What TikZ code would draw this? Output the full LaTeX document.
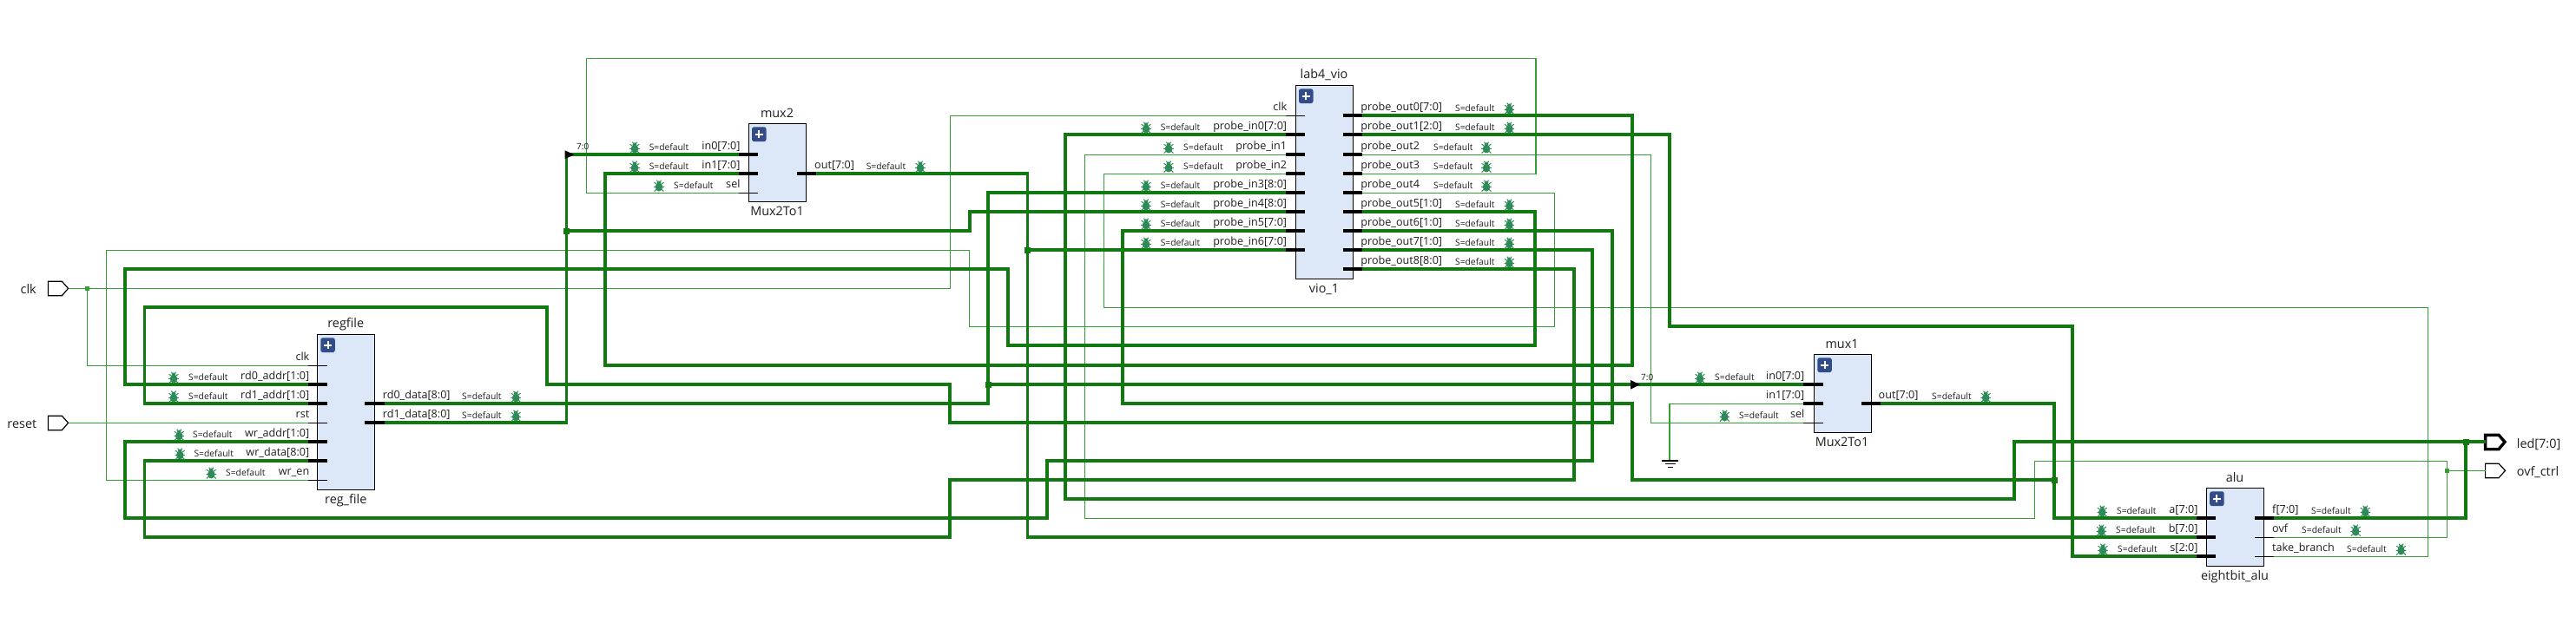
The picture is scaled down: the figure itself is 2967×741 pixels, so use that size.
\documentclass[tikz,border=0pt]{standalone}
\usepackage{fontspec}
\setmainfont{Open Sans}
\definecolor{buscol}{RGB}{16,122,16}
\definecolor{wirecol}{RGB}{52,160,52}
\definecolor{blockfill}{RGB}{220,232,248}
\definecolor{plusfill}{RGB}{50,76,138}
\definecolor{bugcol}{RGB}{46,139,87}
\definecolor{txtcol}{RGB}{30,30,30}
\newcommand{\pinfont}{\fontsize{12.6}{15}\selectfont}
\newcommand{\dbgfont}{\fontsize{10.3}{12}\selectfont}
\newcommand{\namefont}{\fontsize{14.4}{17}\selectfont}
\tikzset{
  x=1pt,y=-1pt,
  busw/.style={draw=buscol,line width=3.9pt,miter limit=10},
  thinw/.style={draw=wirecol,line width=1.5pt},
  busstub/.style={draw=black,line width=3.9pt},
  thinstub/.style={draw=black,line width=1.2pt},
  block/.style={draw=black,line width=1.2pt,fill=blockfill,rectangle,anchor=north west,inner sep=0pt,outer sep=0pt},
  pinl/.style={font=\pinfont,text=txtcol,inner sep=0pt,anchor=base east},
  pinr/.style={font=\pinfont,text=txtcol,inner sep=0pt,anchor=base west},
  dbgt/.style={font=\dbgfont,text=txtcol,inner sep=0pt,anchor=base west},
  blockname/.style={font=\namefont,text=txtcol,inner sep=0pt,anchor=base},
  portname/.style={font=\namefont,text=txtcol,inner sep=0pt},
  rangetxt/.style={font=\fontsize{10}{12}\selectfont,text=txtcol,inner sep=0pt,anchor=base west},
  busdot/.style={fill=buscol},
  thindot/.style={fill=wirecol},
  bugpic/.pic={
    \fill[bugcol] (0,1.2) ellipse[x radius=4.3,y radius=5];
    \fill[bugcol] (0,-4) ellipse[x radius=2.3,y radius=1.8];
    \draw[bugcol,line width=1pt] (-3,-2.5)--(-5.4,-4) (3,-2.5)--(5.4,-4)
      (-3.5,1)--(-5.8,1) (3.5,1)--(5.8,1) (-3,4)--(-5.4,6.2) (3,4)--(5.4,6.2)
      (-1.5,-5)--(-2.6,-6.6) (1.5,-5)--(2.6,-6.6);
  },
  plusbtn/.pic={
    \fill[plusfill,rounded corners=2.5pt] (0,0) rectangle (16.5,16.8);
    \draw[white,line width=2pt] (3.8,8.4)--(12.7,8.4) (8.25,4)--(8.25,12.8);
  },
}
% name, stub style, stub x0, stub x1, y, label
\newcommand{\lpin}[6]{\coordinate (#1) at (#3,#5);
  \draw[#2] (#3,#5)--(#4,#5);
  \node[pinl] (#1-t) at (#3+1.5,#5-5.4) {#6};}
\newcommand{\rpin}[6]{\coordinate (#1) at (#4,#5);
  \draw[#2] (#3,#5)--(#4,#5);
  \node[pinr] (#1-t) at (#4-2,#5-5.4) {#6};}
% pin name, bug x, text x, y
\newcommand{\dbgmark}[4]{\pic at (#2,#4-8) {bugpic};
  \node[dbgt] (#1-s) at (#3,#4-5) {S=default};}
\newcommand{\jdot}[4]{\coordinate (#1) at (#3,#4);
  \fill[#2] (#3-3.5,#4-3.5) rectangle (#3+3.5,#4+3.5);}
\newcommand{\tdot}[3]{\coordinate (#1) at (#2,#3);
  \fill[thindot] (#2-2.5,#3-2.5) rectangle (#2+2.5,#3+2.5);}
\begin{document}
\begin{tikzpicture}
\fill[white] (0,0) rectangle (2967,741);
\useasboundingbox (0,0) rectangle (2967,741);

% ---------- blocks
\node[block,minimum width=65.6pt,minimum height=179pt] (regfile) at (365.7,385.3) {};
\node[block,minimum width=66.1pt,minimum height=90pt] (mux2) at (862.3,142.3) {};
\node[block,minimum width=66.1pt,minimum height=223pt] (vio) at (1492.4,98.3) {};
\node[block,minimum width=66.2pt,minimum height=90pt] (mux1) at (2089.3,408.3) {};
\node[block,minimum width=66pt,minimum height=90pt] (alu) at (2541.7,562.3) {};
\pic at (369.3,389.3) {plusbtn};
\pic at (866,146.3) {plusbtn};
\pic at (1496,102.3) {plusbtn};
\pic at (2093.3,412.3) {plusbtn};
\pic at (2545.2,566.3) {plusbtn};
\node[blockname] (regfile-n) at (398.3,377.8) {regfile};
\node[blockname] (regfile-b) at (398.3,580) {reg\_file};
\node[blockname] (mux2-n) at (895,135.5) {mux2};
\node[blockname] (mux2-b) at (895,248.3) {Mux2To1};
\node[blockname] (vio-n) at (1525,91) {lab4\_vio};
\node[blockname] (vio-b) at (1525,337.5) {vio\_1};
\node[blockname] (mux1-n) at (2121.5,401.5) {mux1};
\node[blockname] (mux1-b) at (2121.5,514.3) {Mux2To1};
\node[blockname] (alu-n) at (2574,555.5) {alu};
\node[blockname] (alu-b) at (2574,668.3) {eightbit\_alu};

% ---------- ports
\coordinate (clkp) at (78.6,332.3);
\coordinate (rstp) at (78.6,487.3);
\coordinate (ledp) at (2862.6,509.3);
\coordinate (ovfp) at (2862.6,542.3);
\draw[black,line width=1.2pt] (55.4,324.3)--(71.4,324.3)--(78.6,332.3)--(71.4,340.7)--(55.4,340.7)--cycle;
\draw[black,line width=1.2pt] (55.4,479.3)--(71.4,479.3)--(78.6,487.3)--(71.4,495.7)--(55.4,495.7)--cycle;
\draw[black,line width=3.4pt] (2862.6,501.3)--(2878,501.3)--(2885,509.3)--(2878,517.7)--(2862.6,517.7)--cycle;
\draw[black,line width=1.2pt] (2862.6,534.3)--(2878,534.3)--(2885.5,542.3)--(2878,550.7)--(2862.6,550.7)--cycle;
\node[portname,anchor=base east] (clkl) at (42,338.3) {clk};
\node[portname,anchor=base east] (rstl) at (42.4,493.3) {reset};
\node[portname,anchor=base west] (ledl) at (2898.7,516) {led[7:0]};
\node[portname,anchor=base west] (ovfl) at (2898.7,548.7) {ovf\_ctrl};

% ---------- pin anchors used by wires
\coordinate (rfclk) at (355,421.3);
\coordinate (rfrd0a) at (355,443.3);
\coordinate (rfrd1a) at (355,465.3);
\coordinate (rfrst) at (355,487.3);
\coordinate (rfwa) at (355,509.3);
\coordinate (rfwd) at (355,531.3);
\coordinate (rfwe) at (355,553.3);
\coordinate (gnd) at (1923.2,531);

% ---------- thin wires
\draw[thinw] (clkp)--(1094.5,332.3)--(1094.5,133.3)--(1480.8,133.3);
\draw[thinw] (100.4,332.3)--(100.4,421.3)--(rfclk);
\draw[thinw] (rstp)--(rfrst);
\draw[thinw] (1569.2,222.3)--(1790.6,222.3)--(1790.6,376.3)--(1116.3,376.3)--(1116.3,288.3)--(122.3,288.3)--(122.3,553.3)--(rfwe);
\draw[thinw] (851.2,222.3)--(675.3,222.3)--(675.3,67.3)--(1768.75,67.3)--(1768.75,200.3)--(1569.2,200.3);
\draw[thinw] (1569.2,178.3)--(1901.4,178.3)--(1901.4,487.3)--(2077,487.3);
\draw[thinw] (2077,465.3)--(1923.2,465.3)--(gnd);
\draw[thinw] (1480.8,178.3)--(1249.5,178.3)--(1249.5,597.3)--(2343.4,597.3)--(2343.4,531.3)--(2818.7,531.3)--(2818.7,619.3)--(2619,619.3);
\draw[thinw] (2818.7,542.3)--(ovfp);
\draw[thinw] (1480.8,200.3)--(1271.3,200.3)--(1271.3,354.3)--(2796.6,354.3)--(2796.6,641.3)--(2619,641.3);

% ---------- bus wires
\draw[busw] (442.7,487.3)--(652.5,487.3)--(652.5,178.3)--(851.2,178.3);
\draw[busw] (652.5,266.3)--(1116.8,266.3)--(1116.8,244.3)--(1480.8,244.3);
\draw[busw] (851.2,200.3)--(697,200.3)--(697,421.3)--(1880,421.3)--(1880,133.3)--(1569.2,133.3);
\draw[busw] (940,200.3)--(1183.5,200.3)--(1183.5,619.3)--(2530.2,619.3);
\draw[busw] (1183.5,288.3)--(1480.8,288.3);
\draw[busw] (442.7,465.3)--(1138.3,465.3)--(1138.3,222.3)--(1480.8,222.3);
\draw[busw] (1138.3,443.3)--(2077,443.3);
\draw[busw] (rfrd0a)--(144.2,443.3)--(144.2,310.3)--(1161.3,310.3)--(1161.3,398.3)--(1768,398.3)--(1768,244.3)--(1569.2,244.3);
\draw[busw] (rfrd1a)--(166.5,465.3)--(166.5,354.3)--(630.4,354.3)--(630.4,443.3)--(1094.4,443.3)--(1094.4,487.3)--(1857.4,487.3)--(1857.4,266.3)--(1569.2,266.3);
\draw[busw] (rfwa)--(144.2,509.3)--(144.2,597.3)--(1205.6,597.3)--(1205.6,531.3)--(1834.4,531.3)--(1834.4,288.3)--(1569.2,288.3);
\draw[busw] (rfwd)--(166.5,531.3)--(166.5,619.3)--(1094.4,619.3)--(1094.4,553.3)--(1812.6,553.3)--(1812.6,310.3)--(1569.2,310.3);
\draw[busw] (1480.8,155.3)--(1227.3,155.3)--(1227.3,575.3)--(2320.4,575.3)--(2320.4,509.3)--(ledp);
\draw[busw] (2619,597.3)--(2840.4,597.3)--(2840.4,509.3);
\draw[busw] (2165.5,465.3)--(2366,465.3)--(2366,597.3)--(2530.2,597.3);
\draw[busw] (1480.8,266.3)--(1293.4,266.3)--(1293.4,465.3)--(1880,465.3)--(1880,553.3)--(2366,553.3);
\draw[busw] (1569.2,155.3)--(1923.2,155.3)--(1923.2,376.3)--(2387.4,376.3)--(2387.4,641.3)--(2530.2,641.3);

% ---------- junction dots
\tdot{jclk}{100.4}{332.3}
\tdot{jovf}{2818.7}{542.3}
\jdot{ja}{busdot}{652.5}{266.3}
\jdot{jb}{busdot}{1183.5}{288.3}
\jdot{jc}{busdot}{1138.3}{443.3}
\jdot{jd}{busdot}{2366}{553.3}
\jdot{je}{busdot}{2840.4}{509.3}

% ---------- ground and range triangles
\draw[black,line width=1.1pt] (1914,531)--(1933,531) (1918,534.7)--(1929.5,534.7) (1921,538.3)--(1926.5,538.3);
\fill[black] (650.7,173.3)--(661.4,178.3)--(650.7,183.2)--cycle;
\fill[black] (1878,438)--(1888.8,443.3)--(1878,448.6)--cycle;
\node[rangetxt] (r2) at (664,172.5) {7:0};
\node[rangetxt] (r1) at (1890,438.5) {7:0};

% ---------- regfile pins
\lpin{rfclk}{thinstub}{355}{376.7}{421.3}{clk}
\lpin{rfrd0a}{busstub}{355}{376.7}{443.3}{rd0\_addr[1:0]}
\lpin{rfrd1a}{busstub}{355}{376.7}{465.3}{rd1\_addr[1:0]}
\lpin{rfrst}{thinstub}{355}{376.7}{487.3}{rst}
\lpin{rfwa}{busstub}{355}{376.7}{509.3}{wr\_addr[1:0]}
\lpin{rfwd}{busstub}{355}{376.7}{531.3}{wr\_data[8:0]}
\lpin{rfwe}{thinstub}{355}{376.7}{553.3}{wr\_en}
\rpin{rfrd0d}{busstub}{420}{442.7}{465.3}{rd0\_data[8:0]}
\rpin{rfrd1d}{busstub}{420}{442.7}{487.3}{rd1\_data[8:0]}
\dbgmark{rfrd0a}{200}{217}{443.3}
\dbgmark{rfrd1a}{200}{217}{465.3}
\dbgmark{rfwa}{206.3}{222}{509.3}
\dbgmark{rfwd}{207.3}{223.3}{531.3}
\dbgmark{rfwe}{243.3}{260}{553.3}
\dbgmark{rfrd0d}{594.2}{532}{465.3}
\dbgmark{rfrd1d}{594.2}{532}{487.3}

% ---------- mux2 pins
\lpin{mtwoa}{busstub}{851.2}{873}{178.3}{in0[7:0]}
\lpin{mtwob}{busstub}{851.2}{873}{200.3}{in1[7:0]}
\lpin{mtwos}{thinstub}{851.2}{873}{222.3}{sel}
\rpin{mtwoo}{busstub}{918}{940}{200.3}{out[7:0]}
\dbgmark{mtwoa}{731}{747.6}{178.3}
\dbgmark{mtwob}{731}{747.6}{200.3}
\dbgmark{mtwos}{759}{776}{222.3}
\dbgmark{mtwoo}{1060}{997.6}{200.3}

% ---------- vio pins
\lpin{vclk}{thinstub}{1480.8}{1503}{133.3}{clk}
\lpin{vi0}{busstub}{1480.8}{1503}{155.3}{probe\_in0[7:0]}
\lpin{vi1}{busstub}{1480.8}{1503}{178.3}{probe\_in1}
\lpin{vi2}{busstub}{1480.8}{1503}{200.3}{probe\_in2}
\lpin{vi3}{busstub}{1480.8}{1503}{222.3}{probe\_in3[8:0]}
\lpin{vi4}{busstub}{1480.8}{1503}{244.3}{probe\_in4[8:0]}
\lpin{vi5}{busstub}{1480.8}{1503}{266.3}{probe\_in5[7:0]}
\lpin{vi6}{busstub}{1480.8}{1503}{288.3}{probe\_in6[7:0]}
\rpin{vo0}{busstub}{1546.9}{1569.2}{133.3}{probe\_out0[7:0]}
\rpin{vo1}{busstub}{1546.9}{1569.2}{155.3}{probe\_out1[2:0]}
\rpin{vo2}{busstub}{1546.9}{1569.2}{178.3}{probe\_out2}
\rpin{vo3}{busstub}{1546.9}{1569.2}{200.3}{probe\_out3}
\rpin{vo4}{busstub}{1546.9}{1569.2}{222.3}{probe\_out4}
\rpin{vo5}{busstub}{1546.9}{1569.2}{244.3}{probe\_out5[1:0]}
\rpin{vo6}{busstub}{1546.9}{1569.2}{266.3}{probe\_out6[1:0]}
\rpin{vo7}{busstub}{1546.9}{1569.2}{288.3}{probe\_out7[1:0]}
\rpin{vo8}{busstub}{1546.9}{1569.2}{310.3}{probe\_out8[8:0]}
\dbgmark{vi0}{1320}{1336.6}{155.3}
\dbgmark{vi1}{1346}{1363}{178.3}
\dbgmark{vi2}{1346}{1363}{200.3}
\dbgmark{vi3}{1320}{1336.6}{222.3}
\dbgmark{vi4}{1320}{1336.6}{244.3}
\dbgmark{vi5}{1320}{1336.6}{266.3}
\dbgmark{vi6}{1320}{1336.6}{288.3}
\dbgmark{vo0}{1738.4}{1675.9}{133.3}
\dbgmark{vo1}{1738.4}{1675.9}{155.3}
\dbgmark{vo2}{1712}{1650.9}{178.3}
\dbgmark{vo3}{1712}{1650.9}{200.3}
\dbgmark{vo4}{1712}{1650.9}{222.3}
\dbgmark{vo5}{1738.4}{1675.9}{244.3}
\dbgmark{vo6}{1738.4}{1675.9}{266.3}
\dbgmark{vo7}{1738.4}{1675.9}{288.3}
\dbgmark{vo8}{1738.4}{1675.9}{310.3}

% ---------- mux1 pins
\lpin{monea}{busstub}{2077}{2100}{443.3}{in0[7:0]}
\lpin{moneb}{busstub}{2077}{2100}{465.3}{in1[7:0]}
\lpin{mones}{thinstub}{2077}{2100}{487.3}{sel}
\rpin{moneo}{busstub}{2144}{2165.5}{465.3}{out[7:0]}
\dbgmark{monea}{1958}{1975}{443.3}
\dbgmark{mones}{1986.4}{2003}{487.3}
\dbgmark{moneo}{2287.2}{2225}{465.3}

% ---------- alu pins
\lpin{aa}{busstub}{2530.2}{2551.9}{597.3}{a[7:0]}
\lpin{ab}{busstub}{2530.2}{2551.9}{619.3}{b[7:0]}
\lpin{as}{busstub}{2530.2}{2551.9}{641.3}{s[2:0]}
\rpin{af}{busstub}{2597}{2619}{597.3}{f[7:0]}
\rpin{aovf}{thinstub}{2597}{2619}{619.3}{ovf}
\rpin{atb}{thinstub}{2597}{2619}{641.3}{take\_branch}
\dbgmark{aa}{2421.3}{2437.9}{597.3}
\dbgmark{ab}{2420.4}{2437}{619.3}
\dbgmark{as}{2422}{2439}{641.3}
\dbgmark{af}{2724.3}{2662}{597.3}
\dbgmark{aovf}{2713.2}{2651}{619.3}
\dbgmark{atb}{2765.5}{2703}{641.3}
\end{tikzpicture}
\end{document}
